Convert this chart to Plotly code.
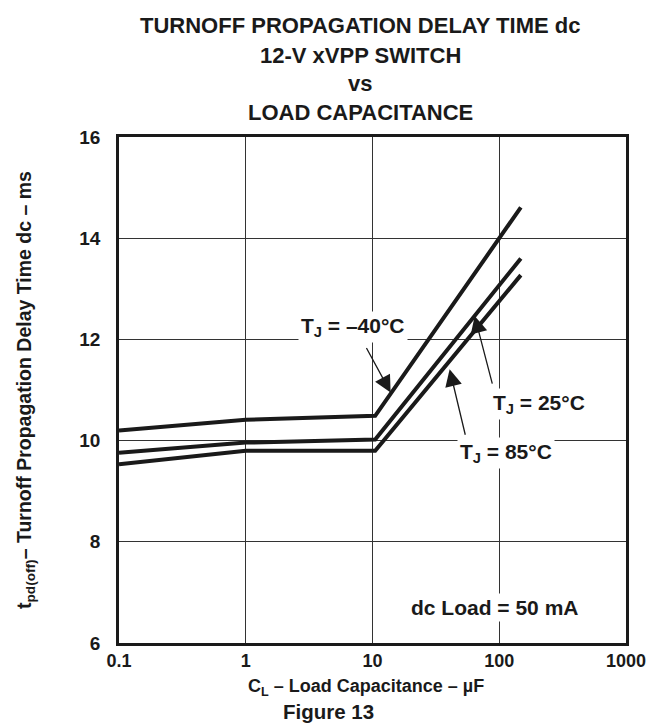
import numpy as np
import plotly.graph_objects as go

# ---- data ----
cap_uF = [0.1, 1, 10.5, 148]
t_m40 = [10.2, 10.41, 10.49, 14.61]
t_25 = [9.76, 9.96, 10.02, 13.6]
t_85 = [9.53, 9.8, 9.8, 13.27]

x_tick_vals = [0.1, 1, 10, 100, 1000]
x_tick_text = ["0.1", "1", "10", "100", "1000"]
y_tick_vals = [6, 8, 10, 12, 14, 16]

title_lines = ["TURNOFF PROPAGATION DELAY TIME dc", "12-V xVPP SWITCH", "vs", "LOAD CAPACITANCE"]

FONT = "Liberation Sans, Arial, sans-serif"
INK = "#1a1a1a"
W, H = 655, 726
L, R, T, B = 111, 37, 129, 91
PW, PH = W - L - R, H - T - B

def px_x(px):  # pixel -> paper x
    return (px - L) / PW

def px_y(py):  # pixel -> paper y
    return (H - B - py) / PH

fig = go.Figure()
for ys in (t_m40, t_25, t_85):
    fig.add_trace(go.Scatter(x=cap_uF, y=ys, mode="lines",
                             line=dict(color=INK, width=4),
                             showlegend=False, hoverinfo="skip"))

ann = []
# title
for line, py in zip(title_lines, [18, 47, 76, 104]):
    ann.append(dict(text="<b>%s</b>" % line, xref="paper", yref="paper",
                    x=px_x(352), y=px_y(py), showarrow=False,
                    xanchor="center", yanchor="middle",
                    font=dict(family=FONT, size=22, color=INK)))
# y title
ann.append(dict(text="<b>t<sub>pd(off)</sub>– Turnoff Propagation Delay Time dc – ms</b>",
                xref="paper", yref="paper", x=px_x(17), y=px_y(382),
                showarrow=False, textangle=-90, xanchor="center", yanchor="middle",
                font=dict(family=FONT, size=19.5, color=INK)))
# x title
ann.append(dict(text="<b>C<sub>L</sub> – Load Capacitance – µF</b>",
                xref="paper", yref="paper", x=px_x(358), y=px_y(679),
                showarrow=False, xanchor="center", yanchor="middle",
                font=dict(family=FONT, size=18, color=INK)))
ann.append(dict(text="<b>Figure 13</b>",
                xref="paper", yref="paper", x=px_x(320), y=px_y(703),
                showarrow=False, xanchor="center", yanchor="middle",
                font=dict(family=FONT, size=20.5, color=INK)))

# curve labels
def label(text, lx, ly, size=21):
    ann.append(dict(text=text, xref="x", yref="y", x=np.log10(lx), y=ly,
                    showarrow=False, xanchor="center", yanchor="middle",
                    bgcolor="white", borderpad=2,
                    font=dict(family=FONT, size=size, color=INK)))

label("<b>T<sub>J</sub> = –40°C</b>", 7.0, 12.25)
label("<b>T<sub>J</sub> = 25°C</b>", 205, 10.72)
label("<b>T<sub>J</sub> = 85°C</b>", 113, 9.76)
label("<b>dc Load = 50 mA</b>", 92, 6.71)

def arrow(tx, ty, axp, ayp):
    ann.append(dict(text="", xref="x", yref="y", x=np.log10(tx), y=ty,
                    ax=axp, ay=ayp, showarrow=True, arrowhead=2,
                    arrowsize=2.6, arrowwidth=1.3, arrowcolor=INK,
                    standoff=0))

arrow(13.9, 10.95, -25, -46)
arrow(64, 12.46, 18, 69)
arrow(40.6, 11.41, 16, 67)

axis_common = dict(showline=True, mirror=True, linecolor=INK, linewidth=2.6,
                   showgrid=True, gridcolor="#333333", gridwidth=1, zeroline=False,
                   ticks="")

fig.update_layout(
    width=W, height=H, margin=dict(l=L, r=R, t=T, b=B),
    paper_bgcolor="white", plot_bgcolor="white",
    annotations=ann, showlegend=False,
    xaxis=dict(type="log", range=[-1, 3], tickvals=x_tick_vals,
               ticktext=["<b>%s</b>" % t for t in x_tick_text],
               ticklabelstandoff=0,
               tickfont=dict(family=FONT, size=18, color=INK), **axis_common),
    yaxis=dict(range=[6, 16], tickvals=y_tick_vals,
               ticktext=["<b>%d</b>" % v for v in y_tick_vals],
               ticklabelstandoff=12,
               tickfont=dict(family=FONT, size=19, color=INK), **axis_common),
)

fig.write_html("out.html")
